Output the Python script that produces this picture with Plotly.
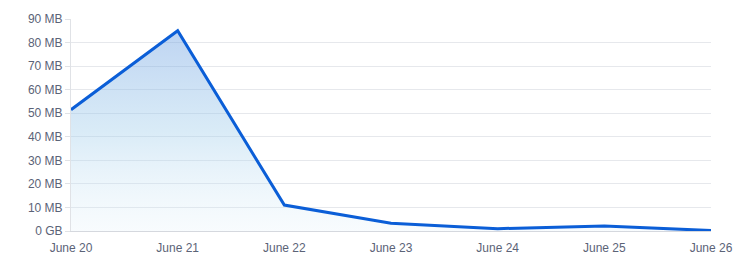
import plotly.graph_objects as go

dates = ["June 20", "June 21", "June 22", "June 23", "June 24", "June 25", "June 26"]
usage_mb = [51.5, 85.0, 11.0, 3.3, 1.0, 2.1, 0.2]
tick_vals = [0, 10, 20, 30, 40, 50, 60, 70, 80, 90]
tick_text = ["0 GB", "10 MB", "20 MB", "30 MB", "40 MB", "50 MB", "60 MB", "70 MB", "80 MB", "90 MB"]

fig = go.Figure()
fig.add_trace(go.Scatter(
    x=dates, y=usage_mb, mode="lines",
    line=dict(color="#0b5ed7", width=3),
    fill="tozeroy",
    fillgradient=dict(type="vertical",
                      colorscale=[[0, "rgba(220,238,248,0.2)"],
                                  [0.5, "rgba(160,205,235,0.4)"],
                                  [1, "rgba(110,160,225,0.45)"]]),
    hoverinfo="skip",
))
fig.update_layout(
    width=748, height=277,
    margin=dict(l=71, r=37, t=19, b=46),
    paper_bgcolor="white", plot_bgcolor="white",
    showlegend=False,
    font=dict(family="Liberation Sans, Arial, sans-serif", size=12, color="#5b6377"),
)
fig.update_xaxes(
    type="category", range=[0, 6],
    showgrid=False, showline=True, linecolor="#d5d8de", linewidth=1,
    ticks="", ticklabelstandoff=6,
)
fig.update_yaxes(
    range=[0, 90], tickvals=tick_vals, ticktext=tick_text,
    showgrid=True, gridcolor="#e6e8ec", gridwidth=1,
    showline=True, linecolor="#e0e2e6", linewidth=1,
    ticks="outside", ticklen=5, tickcolor="#e0e2e6",
    zeroline=False,
)
fig.write_html("out.html")
